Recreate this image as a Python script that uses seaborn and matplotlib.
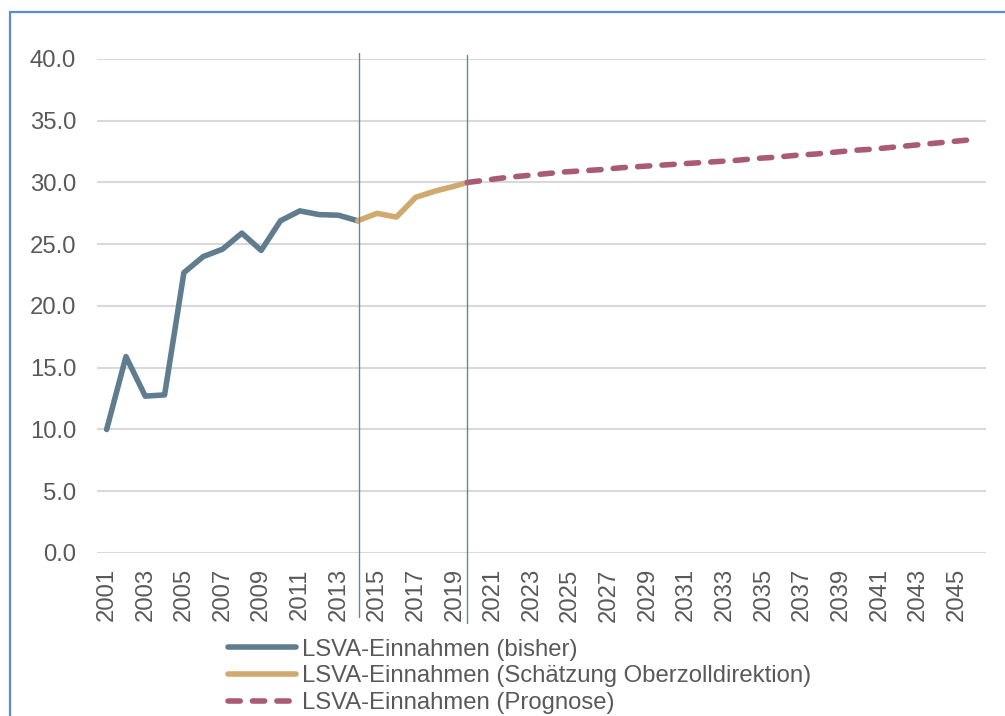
import numpy as np
import pandas as pd
import matplotlib
matplotlib.use("Agg")
import matplotlib.pyplot as plt
import matplotlib.patches as mpatches
from matplotlib.lines import Line2D
import seaborn as sns

# ---- data ----
hist_years = [2001, 2002, 2003, 2004, 2005, 2006, 2007, 2008, 2009, 2010, 2011, 2012, 2013, 2014]
hist_vals = [10.0, 15.9, 12.7, 12.8, 22.7, 24.0, 24.6, 25.9, 24.5, 26.9, 27.7, 27.4, 27.35, 26.9]

est_years = [2014, 2015, 2016, 2017, 2018, 2019]
est_vals = [26.9, 27.5, 27.2, 28.8, 29.3, 29.7]

prog_years = list(range(2020, 2047))
prog_vals = [30.0, 30.2, 30.4, 30.55, 30.7, 30.85, 30.95, 31.05, 31.2, 31.3, 31.4,
             31.5, 31.6, 31.7, 31.8, 31.95, 32.05, 32.2, 32.3, 32.45, 32.6, 32.7,
             32.85, 33.0, 33.15, 33.3, 33.45]

labels = ["LSVA-Einnahmen (bisher)",
          "LSVA-Einnahmen (Schätzung Oberzolldirektion)",
          "LSVA-Einnahmen (Prognose)"]
y_ticks = [0, 5, 10, 15, 20, 25, 30, 35, 40]
x_ticks = list(range(2001, 2046, 2))

# style
PROG_SHIFT = -0.33
C_HIST = "#5F7D8F"
C_EST = "#D0A96E"
C_PROG = "#AA5B74"
C_TXT = "#595959"
FS = 17.2

sns.set_theme(style="white")
plt.rcParams["font.family"] = ["Liberation Sans", "DejaVu Sans"]

fig = plt.figure(figsize=(10.05, 7.16), dpi=100)
ax = fig.add_axes([0.0965, 0.2277, 0.8841, 0.6899])

prog_x = [y + PROG_SHIFT for y in prog_years]
df_hist = pd.DataFrame({"year": hist_years, "val": hist_vals})
df_est = pd.DataFrame({"year": est_years + [prog_x[0]], "val": est_vals + [prog_vals[0]]})
df_prog = pd.DataFrame({"year": prog_x, "val": prog_vals})

lw = 4.0
sns.lineplot(data=df_hist, x="year", y="val", ax=ax, color=C_HIST, lw=lw,
             solid_capstyle="round", solid_joinstyle="round", zorder=3)
sns.lineplot(data=df_est, x="year", y="val", ax=ax, color=C_EST, lw=lw,
             solid_capstyle="round", solid_joinstyle="round", zorder=3)
sns.lineplot(data=df_prog, x="year", y="val", ax=ax, color=C_PROG, lw=lw,
             dashes=False, zorder=4)
ax.lines[-1].set_dashes((2.2, 2.2))
ax.lines[-1].set_dash_capstyle("round")

# vertical separators
ax.axvline(2014.06, ymin=-0.13, ymax=1.012, color="#6A8798", lw=1.0, clip_on=False, zorder=5)
ax.axvline(prog_x[0], ymin=-0.142, ymax=1.008, color="#6A8798", lw=1.0, clip_on=False, zorder=5)

ax.set_xlim(2000.5, 2046.5)
ax.set_ylim(0, 40)
ax.set_yticks(y_ticks)
ax.set_yticklabels([f"{v:.1f}" for v in y_ticks])
ax.set_xticks(x_ticks)
ax.set_xticklabels([str(v) for v in x_ticks], rotation=90)
ax.tick_params(axis="y", length=0, pad=15, labelsize=FS, labelcolor=C_TXT)
ax.tick_params(axis="x", length=0, pad=11, labelsize=FS, labelcolor=C_TXT)
ax.set_xlabel("")
ax.set_ylabel("")
ax.grid(axis="y", color="#D9D9D9", lw=1.5)
ax.grid(axis="x", visible=False)
for s in ax.spines.values():
    s.set_visible(False)
ax.set_axisbelow(True)

# legend
h1 = Line2D([], [], color=C_HIST, lw=lw, solid_capstyle="round")
h2 = Line2D([], [], color=C_EST, lw=lw, solid_capstyle="round")
h3 = Line2D([], [], color=C_PROG, lw=lw, dash_capstyle="round")
h3.set_dashes((2.2, 2.2))
leg = fig.legend([h1, h2, h3], labels, loc="upper left",
                 bbox_to_anchor=(0.2270, 0.1080), frameon=False,
                 fontsize=FS, handlelength=2.85, handletextpad=0.25,
                 labelspacing=0.2, borderpad=0, borderaxespad=0)
for t in leg.get_texts():
    t.set_color(C_TXT)

# outer border (only top and left visible inside the image)
rect = mpatches.Rectangle((10 / 1005, -0.2), 2.0, 0.2 + (1 - 11.5 / 716),
                          transform=fig.transFigure, fill=False,
                          edgecolor="#5B8CCF", lw=1.6, clip_on=False)
fig.patches.append(rect)

fig.savefig("out.png", dpi=100, facecolor="white")
